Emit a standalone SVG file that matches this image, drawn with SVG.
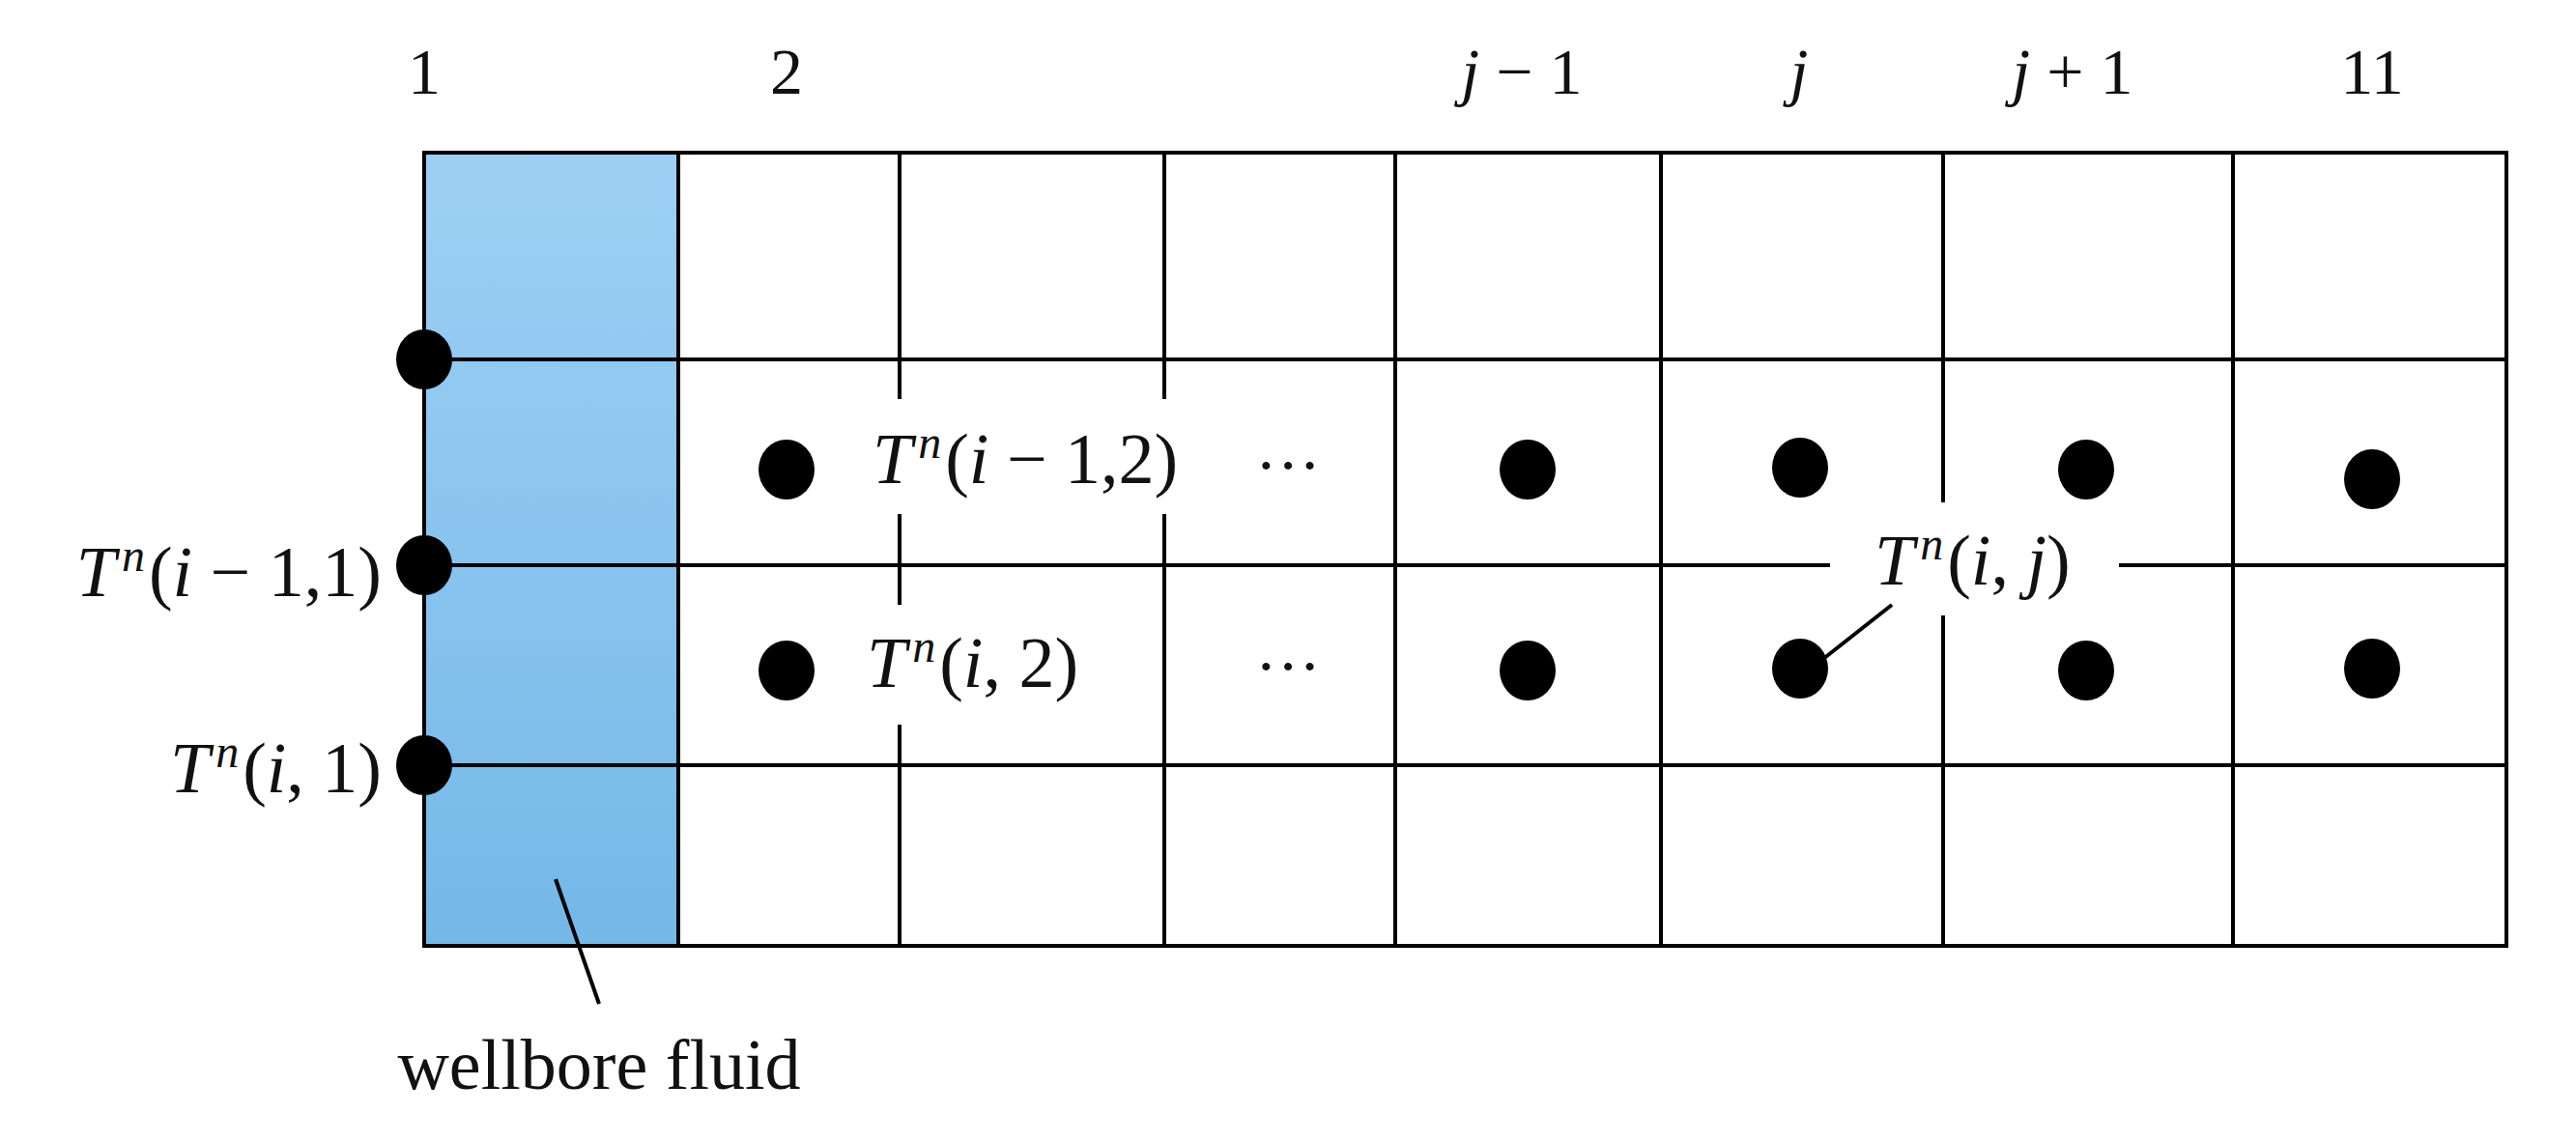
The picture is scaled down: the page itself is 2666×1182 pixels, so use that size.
<svg xmlns="http://www.w3.org/2000/svg" width="2666" height="1182" viewBox="0 0 2666 1182">
<style>
.g{stroke:#000;stroke-width:4;fill:none}
.t{font-family:"Liberation Serif",serif;font-size:68px;fill:#111}
.m{font-size:74px}
.i{font-style:italic}
.s{font-size:48px;font-style:italic}
.d{fill:#000}
</style>
<defs>
<linearGradient id="bl" x1="0" y1="0" x2="0" y2="1"><stop offset="0" stop-color="#9ed0f4"/><stop offset="1" stop-color="#74b8e8"/></linearGradient>
</defs>
<rect x="0" y="0" width="2666" height="1182" fill="#fff"/>
<g id="wellbore"><rect x="439" y="158" width="263" height="821" fill="url(#bl)"/></g>
<g id="grid">
<rect class="g" x="439" y="158" width="2155" height="821"/>
<line class="g" x1="439" y1="372" x2="2594" y2="372"/>
<line class="g" x1="439" y1="585" x2="2594" y2="585"/>
<line class="g" x1="439" y1="792" x2="2594" y2="792"/>
<line class="g" x1="702" y1="158" x2="702" y2="979"/>
<line class="g" x1="931" y1="158" x2="931" y2="979"/>
<line class="g" x1="1205" y1="158" x2="1205" y2="979"/>
<line class="g" x1="1444" y1="158" x2="1444" y2="979"/>
<line class="g" x1="1719" y1="158" x2="1719" y2="979"/>
<line class="g" x1="2011" y1="158" x2="2011" y2="979"/>
<line class="g" x1="2311" y1="158" x2="2311" y2="979"/>
</g>
<g id="masks" fill="#fff">
<rect x="888" y="413" width="362" height="119"/>
<rect x="884" y="626" width="255" height="124"/>
<rect x="1894" y="520" width="299" height="117"/>
</g>
<g id="connectors" stroke="#000" stroke-width="4">
<line x1="1958" y1="626" x2="1878" y2="689"/>
<line x1="575" y1="910" x2="620" y2="1039"/>
</g>
<g id="nodes">
<ellipse class="d" cx="439" cy="372" rx="29" ry="31"/>
<ellipse class="d" cx="439" cy="585" rx="29" ry="31"/>
<ellipse class="d" cx="439" cy="792" rx="29" ry="31"/>
<ellipse class="d" cx="814" cy="486" rx="29" ry="31"/>
<ellipse class="d" cx="814" cy="694" rx="29" ry="31"/>
<ellipse class="d" cx="1581" cy="486" rx="29" ry="31"/>
<ellipse class="d" cx="1581" cy="694" rx="29" ry="31"/>
<ellipse class="d" cx="1863" cy="484" rx="29" ry="31"/>
<ellipse class="d" cx="1863" cy="692" rx="29" ry="31"/>
<ellipse class="d" cx="2159" cy="486" rx="29" ry="31"/>
<ellipse class="d" cx="2159" cy="694" rx="29" ry="31"/>
<ellipse class="d" cx="2455" cy="496" rx="29" ry="31"/>
<ellipse class="d" cx="2455" cy="692" rx="29" ry="31"/>
</g>
<g id="labels" class="t">
<text x="439" y="97" text-anchor="middle">1</text>
<text x="814" y="97" text-anchor="middle">2</text>
<text x="1575" y="97" text-anchor="middle"><tspan class="i">j</tspan> − 1</text>
<text x="1862" y="97" text-anchor="middle" class="i">j</text>
<text x="2145" y="97" text-anchor="middle"><tspan class="i">j</tspan> + 1</text>
<text x="2455" y="97" text-anchor="middle">11</text>
<text class="m" x="903" y="500"><tspan class="i">T</tspan><tspan class="s" dx="6" dy="-26">n</tspan><tspan dx="4" dy="26">(</tspan><tspan class="i">i</tspan> − 1,2)</text>
<text class="m" x="897" y="711"><tspan class="i">T</tspan><tspan class="s" dx="6" dy="-26">n</tspan><tspan dx="4" dy="26">(</tspan><tspan class="i">i</tspan>, 2)</text>
<text x="1333" y="504" text-anchor="middle">···</text>
<text x="1333" y="712" text-anchor="middle">···</text>
<text class="m" x="395" y="617" text-anchor="end"><tspan class="i">T</tspan><tspan class="s" dx="6" dy="-26">n</tspan><tspan dx="4" dy="26">(</tspan><tspan class="i">i</tspan> − 1,1)</text>
<text class="m" x="395" y="820" text-anchor="end"><tspan class="i">T</tspan><tspan class="s" dx="6" dy="-26">n</tspan><tspan dx="4" dy="26">(</tspan><tspan class="i">i</tspan>, 1)</text>
<text class="m" x="1940" y="605"><tspan class="i">T</tspan><tspan class="s" dx="6" dy="-26">n</tspan><tspan dx="4" dy="26">(</tspan><tspan class="i">i</tspan>, <tspan class="i">j</tspan>)</text>
<text x="620" y="1127" text-anchor="middle" font-size="74">wellbore fluid</text>
</g>
</svg>
